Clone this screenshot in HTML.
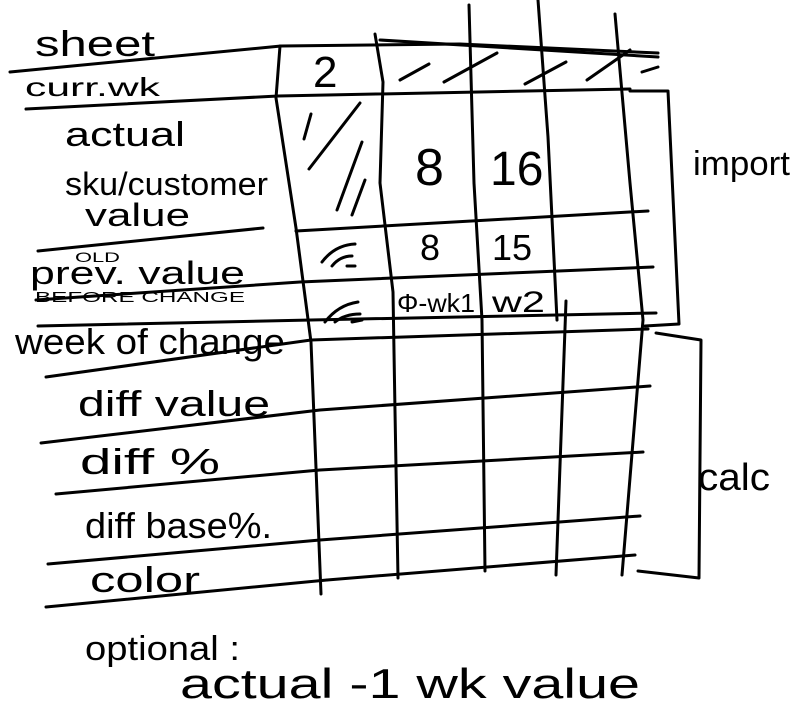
<!DOCTYPE html>
<html><head><meta charset="utf-8"><style>
html,body{margin:0;padding:0;background:#fff;}
svg{display:block}
text{font-family:"Liberation Sans",sans-serif;fill:#000;}
</style></head><body>
<svg width="799" height="717" viewBox="0 0 799 717" xmlns="http://www.w3.org/2000/svg">
<g fill="none" stroke="#000" stroke-width="3" stroke-linecap="round" stroke-linejoin="round">
<polyline points="10,72 281,46 460,44 658,53"/>
<polyline points="380,40 658,57"/>
<polyline points="26,109 278,96 630,89"/>
<polyline points="38,251 263,228"/>
<polyline points="296,231 648,211"/>
<polyline points="36,300 300,282 653,267"/>
<polyline points="38,326 311,320 656,313"/>
<polyline points="46,377 311,340 648,329"/>
<polyline points="41,443 320,410 650,386"/>
<polyline points="56,494 320,470 643,452"/>
<polyline points="48,564 320,540 640,516"/>
<polyline points="327,580 635,555"/>
<polyline points="46,607 327,580"/>
<polyline points="280,46 276,98 296,228 311,342 321,594"/>
<polyline points="375,34 383,82 380,183 393,292 395,411 398,578"/>
<polyline points="469,5 474,183 482,320 485,571"/>
<polyline points="538,0 548,137 557,320"/>
<polyline points="566,301 556,575"/>
<polyline points="615,14 630,183 643,320 622,575"/>
<polyline points="630,91 668,91 679,324 645,326"/>
<polyline points="656,333 701,340 699,578 638,571"/>
<line x1="400" y1="80" x2="429" y2="64"/>
<line x1="444" y1="82" x2="497" y2="53"/>
<line x1="525" y1="84" x2="566" y2="62"/>
<line x1="587" y1="80" x2="630" y2="50"/>
<line x1="642" y1="72" x2="658" y2="67"/>
<line x1="304" y1="139" x2="311" y2="114"/>
<line x1="309" y1="169" x2="360" y2="103"/>
<line x1="337" y1="210" x2="362" y2="142"/>
<line x1="352" y1="215" x2="365" y2="180"/>
<path d="M322,262 Q335,245 355,244"/>
<path d="M332,266 Q340,256 352,256"/>
<line x1="347" y1="266" x2="355" y2="266"/>
<path d="M325,322 Q338,305 358,302"/>
<path d="M335,322 Q345,314 360,314"/>
<line x1="352" y1="322" x2="362" y2="320"/>
</g>
<g>
<text x="35" y="56" font-size="36" textLength="120" lengthAdjust="spacingAndGlyphs">sheet</text>
<text x="25" y="96" font-size="26" textLength="135" lengthAdjust="spacingAndGlyphs">curr.wk</text>
<text x="313" y="87" font-size="44">2</text>
<text x="65" y="146" font-size="34" textLength="120" lengthAdjust="spacingAndGlyphs">actual</text>
<text x="65" y="195" font-size="32" textLength="203" lengthAdjust="spacingAndGlyphs">sku/customer</text>
<text x="85" y="226" font-size="32" textLength="105" lengthAdjust="spacingAndGlyphs">value</text>
<text x="415" y="185" font-size="52">8</text>
<text x="490" y="185" font-size="48">16</text>
<text x="420" y="260" font-size="36">8</text>
<text x="492" y="260" font-size="36">15</text>
<text x="75" y="262" font-size="14" textLength="45" lengthAdjust="spacingAndGlyphs">OLD</text>
<text x="30" y="284" font-size="32" textLength="215" lengthAdjust="spacingAndGlyphs">prev. value</text>
<text x="35" y="302" font-size="15" textLength="210" lengthAdjust="spacingAndGlyphs">BEFORE CHANGE</text>
<text x="15" y="354" font-size="36" textLength="270" lengthAdjust="spacingAndGlyphs">week of change</text>
<text x="397" y="312" font-size="26" textLength="78" lengthAdjust="spacingAndGlyphs">Φ-wk1</text>
<text x="492" y="312" font-size="30" textLength="53" lengthAdjust="spacingAndGlyphs">w2</text>
<text x="78" y="416" font-size="36" textLength="192" lengthAdjust="spacingAndGlyphs">diff value</text>
<text x="80" y="474" font-size="36" textLength="140" lengthAdjust="spacingAndGlyphs">diff %</text>
<text x="85" y="538" font-size="36" textLength="187" lengthAdjust="spacingAndGlyphs">diff base%.</text>
<text x="90" y="592" font-size="36" textLength="110" lengthAdjust="spacingAndGlyphs">color</text>
<text x="693" y="175" font-size="34" textLength="97" lengthAdjust="spacingAndGlyphs">import</text>
<text x="698" y="490" font-size="38" textLength="72" lengthAdjust="spacingAndGlyphs">calc</text>
<text x="85" y="660" font-size="34" textLength="155" lengthAdjust="spacingAndGlyphs">optional :</text>
<text x="180" y="698" font-size="42" textLength="460" lengthAdjust="spacingAndGlyphs">actual -1 wk value</text>
</g>
</svg>
</body></html>
